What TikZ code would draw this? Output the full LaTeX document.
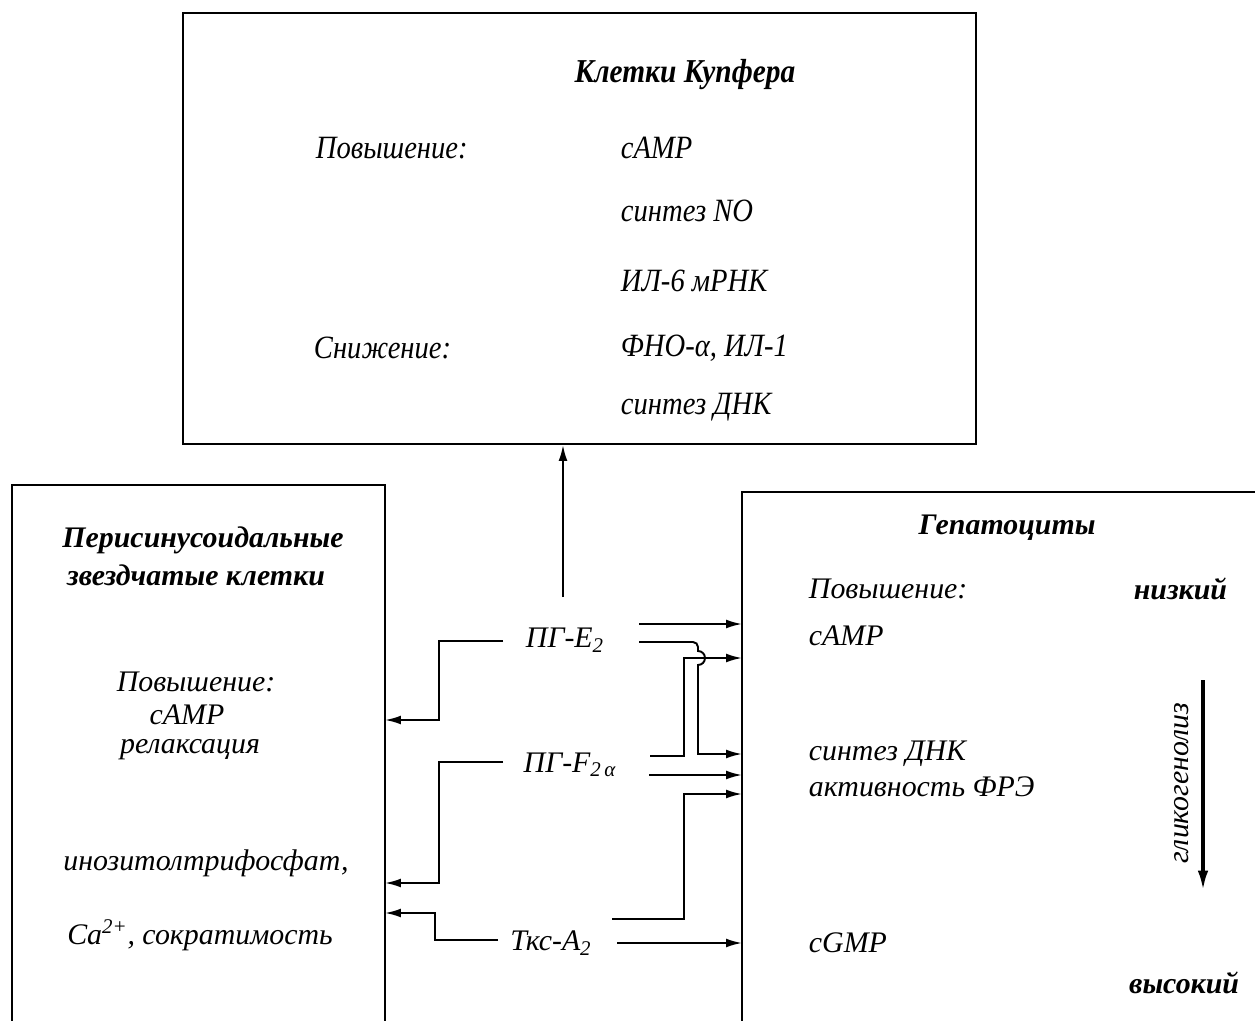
\documentclass[tikz,border=0pt]{standalone}
\usepackage{fontspec}
\setmainfont{Liberation Serif}
\newfontfamily\narrowserif[FakeStretch=0.88]{Liberation Serif}
\usetikzlibrary{arrows.meta}
\begin{document}
\begin{tikzpicture}[x=0.02cm,y=-0.02cm,line width=1.1pt,
  txt/.style={inner sep=0pt,font=\fontsize{17}{20}\selectfont\itshape},
  ntxt/.style={inner sep=0pt,font=\fontsize{18.5}{22}\selectfont\narrowserif\itshape},
  ttl/.style={inner sep=0pt,font=\fontsize{17}{20}\selectfont\bfseries\itshape},
  nttl/.style={inner sep=0pt,font=\fontsize{19}{22}\selectfont\narrowserif\bfseries\itshape},
  arr/.style={-{Latex[length=9pt,width=5pt]}},
  boxline/.style={line width=1.2pt}]
\useasboundingbox (0,0) rectangle (1255,1021);

% boxes
\node[draw,boxline,anchor=north west,inner sep=0pt,minimum width=15.86cm,minimum height=8.62cm] (kup) at (182,12) {};
\coordinate (Ltop) at (385,485);
\coordinate (Rtop) at (742,492);
\draw[boxline] (12,1021) |- (Ltop) -- (385,1021);
\draw[boxline] (1255,492) -- (Rtop) -- (742,1021);

% top box texts
\node[nttl] (kt) at (685,75) {Клетки Купфера};
\node[ntxt,anchor=west] (k1) at (315,148) {Повышение:};
\node[ntxt,anchor=west] (k2) at (620,148) {cAMP};
\node[ntxt,anchor=west] (k3) at (620,211) {синтез NO};
\node[ntxt,anchor=west] (k4) at (620,281) {ИЛ-6 мРНК};
\node[ntxt,anchor=west] (k5) at (313,348) {Снижение:};
\node[ntxt,anchor=west] (k6) at (620,348) {ФНО-α, ИЛ-1};
\node[ntxt,anchor=west] (k7) at (620,407) {синтез ДНК};

% left box texts
\node[ttl] (lt1) at (203,540) {Перисинусоидальные};
\node[ttl] (lt2) at (196,575) {звездчатые клетки};
\node[txt] (l1) at (196,682) {Повышение:};
\node[txt] (l2) at (187,715) {cAMP};
\node[txt] (l3) at (190,750) {релаксация};
\node[txt] (l4) at (206,863) {инозитолтрифосфат,};
\node[txt] (l5) at (200,935) {Ca\textsuperscript{2+}, сократимость};

% right box texts
\node[ttl] (rt) at (1007,528) {Гепатоциты};
\node[txt,anchor=west] (r1) at (808,589) {Повышение:};
\node[ttl,anchor=east] (lo) at (1228,589) {низкий};
\node[txt,anchor=west] (r2) at (808,636) {cAMP};
\node[txt,anchor=west] (r3) at (808,754) {синтез ДНК};
\node[txt,anchor=west] (r4) at (808,787) {активность ФРЭ};
\node[txt,anchor=west] (r5) at (808,943) {cGMP};
\node[ttl,anchor=east] (hi) at (1240,983) {высокий};
\coordinate (gtop) at (1203,680);
\coordinate (gbot) at (1203,890);
\draw[line width=1.8pt,-{Latex[length=11pt,width=6pt]}] (gtop) -- (gbot);
\node[txt,rotate=90] (gl) at (1182,783) {гликогенолиз};

% mediators
\node[txt] (e2) at (565,640) {ПГ-E\textsubscript{2}};
\node[txt] (f2a) at (570,765) {ПГ-F\textsubscript{2\,α}};
\node[txt] (tx) at (551,943) {Ткс-A\textsubscript{2}};

% up arrow to Kupffer cells
\coordinate (e2up) at (563,597);
\draw[arr] (e2up) -- (e2up |- kup.south);

% E2 connectors
\coordinate (e2L) at (503,641);
\draw[arr] (e2L) -- (439,641) |- (Ltop |- 0,720);
\coordinate (e2Ra) at (639,624);
\draw[arr] (e2Ra) -- (Rtop |- e2Ra);
\coordinate (e2Rb) at (639,642);
\draw[arr] (e2Rb) -- (693,642) arc(-90:0:5) -- (698,651) arc(-90:90:7) -- (698,754) -- (Rtop |- 0,754);

% F2a connectors
\coordinate (f2L) at (503,762);
\draw[arr] (f2L) -- (439,762) |- (Ltop |- 0,883);
\coordinate (f2Ra) at (650,756);
\draw[arr] (f2Ra) -- (684,756) -- (684,658) -- (Rtop |- 0,658);
\coordinate (f2Rb) at (649,775);
\draw[arr] (f2Rb) -- (Rtop |- f2Rb);

% TxA2 connectors
\coordinate (txL) at (498,940);
\draw[arr] (txL) -- (435,940) |- (Ltop |- 0,913);
\coordinate (txRa) at (612,919);
\draw[arr] (txRa) -- (684,919) -- (684,794) -- (Rtop |- 0,794);
\coordinate (txRb) at (617,943);
\draw[arr] (txRb) -- (Rtop |- txRb);
\end{tikzpicture}
\end{document}
